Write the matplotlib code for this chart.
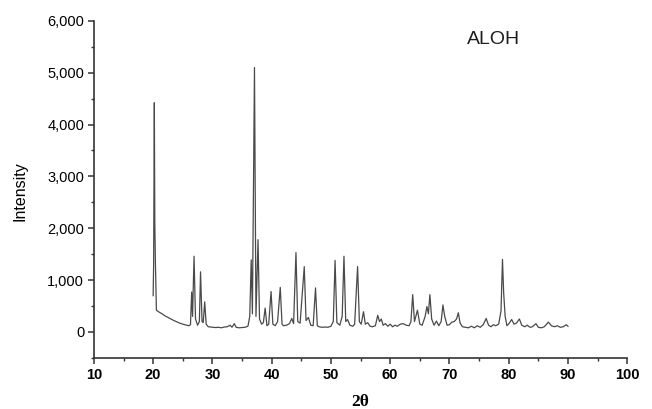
import matplotlib
matplotlib.use("Agg")
import matplotlib.pyplot as plt
from matplotlib.ticker import MultipleLocator, FuncFormatter

# XRD pattern of the ALOH sample: (2-theta, intensity) vertices
two_theta = [
    20.00, 20.08, 20.20, 20.28, 20.38, 20.55, 20.90, 21.50, 22.00, 22.50,
    23.00, 23.50, 24.00, 24.50, 25.00, 25.50, 26.00, 26.30, 26.50, 26.65,
    26.90, 27.15, 27.50, 27.80, 28.00, 28.25, 28.45, 28.70, 28.95, 29.30,
    30.00, 30.50, 31.00, 31.50, 32.00, 32.50, 33.00, 33.30, 33.70, 34.00,
    34.50, 35.00, 35.50, 36.00, 36.30, 36.55, 36.75, 37.10, 37.35, 37.70,
    37.95, 38.30, 38.60, 38.90, 39.20, 39.50, 39.90, 40.20, 40.60, 41.00,
    41.45, 41.75, 42.00, 42.50, 43.00, 43.40, 43.70, 44.10, 44.40, 44.80,
    45.50, 45.80, 46.20, 46.60, 47.00, 47.40, 47.70, 48.00, 48.50, 49.00,
    49.50, 50.00, 50.40, 50.70, 51.00, 51.50, 51.90, 52.20, 52.50, 52.80,
    53.20, 53.70, 54.00, 54.50, 54.80, 55.10, 55.50, 55.80, 56.20, 56.60,
    57.00, 57.50, 57.90, 58.20, 58.50, 58.80, 59.20, 59.60, 60.00, 60.40,
    60.80, 61.20, 61.70, 62.20, 62.70, 63.20, 63.50, 63.80, 64.10, 64.60,
    65.00, 65.40, 65.90, 66.20, 66.45, 66.70, 67.00, 67.40, 67.80, 68.20,
    68.60, 68.90, 69.20, 69.60, 70.00, 70.40, 70.80, 71.20, 71.50, 71.80,
    72.20, 72.70, 73.20, 73.70, 74.20, 74.70, 75.20, 75.70, 76.20, 76.60,
    77.00, 77.40, 77.80, 78.30, 78.70, 78.95, 79.15, 79.40, 79.70, 80.10,
    80.50, 80.90, 81.30, 81.80, 82.20, 82.70, 83.10, 83.60, 84.00, 84.60,
    85.00, 85.50, 86.00, 86.70, 87.20, 87.70, 88.20, 88.70, 89.20, 89.70,
    90.00,
]
intensity = [
    700, 1300, 4420, 2100, 1350, 420, 390, 350, 310, 280,
    250, 220, 195, 170, 150, 135, 120, 140, 770, 300,
    1460, 250, 130, 200, 1160, 200, 180, 580, 150, 100,
    90, 85, 90, 80, 95, 100, 130, 90, 160, 90,
    80, 85, 90, 110, 300, 1390, 350, 5100, 300, 1780,
    250, 150, 180, 460, 120, 150, 780, 150, 120, 200,
    860, 150, 120, 130, 160, 260, 160, 1530, 200, 170,
    1260, 220, 280, 130, 120, 850, 120, 100, 90, 95,
    90, 110, 200, 1380, 180, 130, 300, 1460, 200, 240,
    130, 110, 150, 1260, 200, 150, 390, 150, 180, 110,
    100, 120, 320, 200, 250, 130, 160, 110, 150, 100,
    130, 110, 150, 160, 130, 120, 200, 720, 200, 420,
    150, 130, 300, 490, 350, 720, 250, 130, 210, 120,
    200, 520, 300, 130, 140, 190, 200, 250, 370, 170,
    100, 90, 80, 110, 80, 120, 90, 140, 260, 130,
    100, 140, 120, 150, 400, 1400, 750, 300, 120, 170,
    240, 150, 170, 250, 130, 100, 130, 90, 100, 160,
    90, 80, 100, 190, 120, 100, 120, 90, 100, 140,
    110,
]

x_ticks = [10, 20, 30, 40, 50, 60, 70, 80, 90, 100]
y_ticks = [0, 1000, 2000, 3000, 4000, 5000, 6000]

plt.rcParams["font.family"] = ["Liberation Sans", "DejaVu Sans"]

fig = plt.figure(figsize=(6.52, 4.09), dpi=100)
ax = fig.add_axes([0.144, 0.125, 0.818, 0.824])

ax.plot(two_theta, intensity, color="#4a4a4a", linewidth=0.9)

ax.set_xlim(10, 100)
ax.set_ylim(-500, 6000)
ax.set_xticks(x_ticks)
ax.set_yticks(y_ticks)
ax.xaxis.set_minor_locator(MultipleLocator(5))
ax.yaxis.set_minor_locator(MultipleLocator(500))
ax.yaxis.set_major_formatter(FuncFormatter(lambda v, p: f"{int(v):,}"))

for side in ("top", "right"):
    ax.spines[side].set_visible(False)
for side in ("left", "bottom"):
    ax.spines[side].set_linewidth(1.2)
    ax.spines[side].set_color("#333333")

ax.tick_params(which="major", direction="out", length=4, width=1.1, color="#333333")
ax.tick_params(which="minor", direction="out", length=2.5, width=1.0, color="#333333")
ax.tick_params(axis="y", labelsize=10.5, pad=3)
ax.tick_params(axis="x", labelsize=10.5, pad=3)
for lbl in ax.get_xticklabels():
    lbl.set_fontweight("bold")

fig.text(0.031, 0.533, "Intensity", rotation=90, ha="center", va="center", fontsize=11.5)
fig.text(0.553, 0.017, "2\u03b8", ha="center", va="center", fontsize=12.5,
         fontweight="bold", family=["Liberation Serif", "DejaVu Serif"])
fig.text(0.757, 0.903, "ALOH", ha="center", va="center", fontsize=14, color="#1e1e1e")

fig.savefig("out.png", dpi=100)
